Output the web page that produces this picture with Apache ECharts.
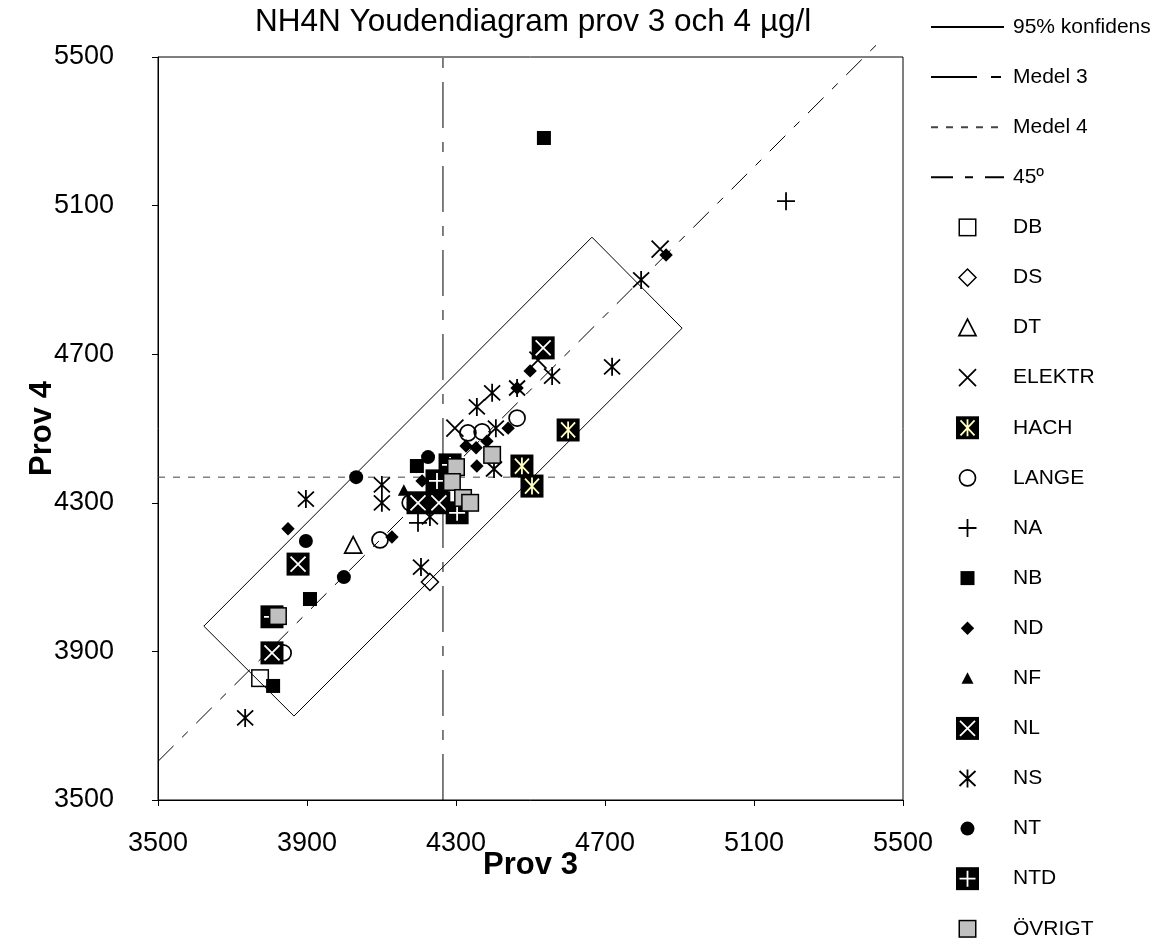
<!DOCTYPE html>
<html><head><meta charset="utf-8">
<script src="https://cdn.jsdelivr.net/npm/echarts@6/dist/echarts.min.js"></script>
<style>html,body{margin:0;padding:0;background:#fff}#c{width:1162px;height:944px}</style>
</head><body><div id="c"></div>
<script>
// ---- data ----
const titleText = 'NH4N Youdendiagram prov 3 och 4 µg/l';
const xTicks = [3500, 3900, 4300, 4700, 5100, 5500];
const yTicks = [3500, 3900, 4300, 4700, 5100, 5500];
const medel3 = 4265;
const medel4 = 4369;
const conf95 = [[3623, 3968], [4665, 5015], [4907, 4770], [3865, 3726], [3623, 3968]];
const line45End = 5428;

const DB = [[3774, 3828]];
const DS = [[4230, 4087]];
const DT = [[4024, 4186]];
const ELEKTR = [[4848, 4983], [4297, 4501], [4520, 4684]];
const HACH = [[4601, 4496], [4477, 4399], [4504, 4345]];
const LANGE = [[4464, 4528], [4332, 4488], [4370, 4491], [4096, 4200], [3836, 3896], [4177, 4300]];
const NA = [[5186, 5112], [4198, 4246]];
const NB = [[4536, 5282], [4195, 4399], [3908, 4041], [3809, 3807]];
const ND = [[4864, 4967], [4499, 4655], [4464, 4609], [4440, 4501], [4383, 4466], [4354, 4448], [4327, 4453], [4356, 4399], [4209, 4359], [4128, 4208], [3849, 4230]];
const NF = [[4160, 4334]];
const NL = [[4534, 4717], [4198, 4300], [4254, 4300], [3876, 4135], [3806, 3896]];
const NS = [[4797, 4900], [4719, 4666], [4558, 4641], [4464, 4609], [4397, 4596], [4356, 4558], [4407, 4501], [4402, 4391], [4101, 4348], [4101, 4300], [3897, 4310], [4206, 4127], [4230, 4262], [3734, 3721]];
const NT = [[4225, 4423], [4032, 4369], [3897, 4197], [3999, 4100]];
const NTD = [[4249, 4359], [4303, 4273], [3806, 3993], [4284, 4402]];
const OVRIGT = [[4397, 4429], [4300, 4396], [4289, 4356], [4319, 4313], [4338, 4300], [3822, 3995]];

// ---- symbols ----
function sym(inner) {
  return 'image://data:image/svg+xml;charset=utf-8,' + encodeURIComponent(
    '<svg xmlns="http://www.w3.org/2000/svg" width="48" height="48" viewBox="0 0 24 24">' + inner + '</svg>');
}
const S = {
  DB: sym('<rect x="3.75" y="3.75" width="16.5" height="16.5" fill="none" stroke="#000" stroke-width="1.5"/>'),
  DS: sym('<polygon points="12,3.5 20.5,12 12,20.5 3.5,12" fill="none" stroke="#000" stroke-width="1.5"/>'),
  DT: sym('<polygon points="12,3.5 20.5,20 3.5,20" fill="none" stroke="#000" stroke-width="1.7"/>'),
  ELEKTR: sym('<path d="M3.5,3.5L20.5,20.5M20.5,3.5L3.5,20.5" stroke="#000" stroke-width="1.8"/>'),
  HACH: sym('<rect x="0.5" y="0.5" width="23" height="23" fill="#000"/><path d="M12,3.5V20.5M5,4.5L19,19.5M19,4.5L5,19.5" stroke="#FFFFC0" stroke-width="1.8"/>'),
  LANGE: sym('<circle cx="12" cy="12" r="8" fill="none" stroke="#000" stroke-width="1.7"/>'),
  NA: sym('<path d="M12,3V21M3,12H21" stroke="#000" stroke-width="1.8"/>'),
  NB: sym('<rect x="5" y="5" width="14" height="14" fill="#000"/>'),
  ND: sym('<polygon points="12,5.3 18.7,12 12,18.7 5.3,12" fill="#000"/>'),
  NF: sym('<polygon points="12,6 18,17.5 6,17.5" fill="#000"/>'),
  NL: sym('<rect x="0.5" y="0.5" width="23" height="23" fill="#000"/><path d="M4.5,4.5L19.5,19.5M19.5,4.5L4.5,19.5" stroke="#fff" stroke-width="1.8"/>'),
  NS: sym('<path d="M12,3V21M4,4.5L20,19.5M20,4.5L4,19.5" stroke="#000" stroke-width="1.8"/>'),
  NT: sym('<circle cx="12" cy="12" r="7" fill="#000"/>'),
  NTD: sym('<rect x="0.5" y="0.5" width="23" height="23" fill="#000"/><path d="M12,4V20M4,12H20" stroke="#fff" stroke-width="1.8"/>'),
  OVRIGT: sym('<rect x="3.75" y="3.75" width="16.5" height="16.5" fill="#C0C0C0" stroke="#000" stroke-width="1.5"/>')
};

const scatterDefs = [
  ['DB', DB, S.DB], ['DS', DS, S.DS], ['DT', DT, S.DT], ['ELEKTR', ELEKTR, S.ELEKTR],
  ['HACH', HACH, S.HACH], ['LANGE', LANGE, S.LANGE], ['NA', NA, S.NA], ['NB', NB, S.NB],
  ['ND', ND, S.ND], ['NF', NF, S.NF], ['NL', NL, S.NL], ['NS', NS, S.NS], ['NT', NT, S.NT],
  ['NTD', NTD, S.NTD], ['ÖVRIGT', OVRIGT, S.OVRIGT]
];

const noSym = { color: 'rgba(0,0,0,0)', borderColor: 'rgba(0,0,0,0)', borderWidth: 0 };
const diff = medel4 - medel3;
const series = [
  { name: '95% konfidens', type: 'line', data: conf95, symbol: 'none', itemStyle: noSym, lineStyle: { color: '#000', width: 1 }, z: 1 },
  { name: 'Medel 3', type: 'line', data: [[medel3, yTicks[0]], [medel3, yTicks[yTicks.length - 1]]], symbol: 'none', itemStyle: noSym, lineStyle: { color: '#000', width: 1, type: [46, 14, 10, 14] }, z: 1 },
  { name: 'Medel 4', type: 'line', data: [[xTicks[0], medel4], [xTicks[xTicks.length - 1], medel4]], symbol: 'none', itemStyle: noSym, lineStyle: { color: '#444', width: 1, type: [7, 8] }, z: 1 },
  { name: '45º', type: 'line', clip: false, data: [[xTicks[0], xTicks[0] + diff], [line45End, line45End + diff]], symbol: 'none', itemStyle: noSym, lineStyle: { color: '#000', width: 1, type: [22, 12, 8, 12] }, z: 1 }
];
scatterDefs.forEach(function (d) {
  series.push({ name: d[0], type: 'scatter', data: d[1], symbol: d[2], symbolSize: 24, z: 2, itemStyle: { opacity: 1 } });
});

const legendData = series.map(function (s) {
  return s.type === 'line' ? { name: s.name, itemStyle: noSym } : { name: s.name };
});

const plain = function (v) { return String(v); };

const chart = echarts.init(document.getElementById('c'), null, { renderer: 'canvas' });
chart.setOption({
  animation: false,
  backgroundColor: '#fff',
  title: {
    text: titleText, left: 255, top: 6, padding: 0,
    textStyle: { fontFamily: 'Liberation Sans', fontSize: 31.5, fontWeight: 'normal', color: '#000' }
  },
  grid: { left: 158, right: 259, top: 57, bottom: 144, show: true, borderColor: '#000', borderWidth: 1, backgroundColor: '#fff' },
  xAxis: {
    type: 'value', min: xTicks[0], max: xTicks[xTicks.length - 1],
    name: 'Prov 3', nameLocation: 'middle', nameGap: 50, nameMoveOverlap: false,
    nameTextStyle: { fontFamily: 'Liberation Sans', fontSize: 31, fontWeight: 'bold', color: '#000' },
    axisLine: { lineStyle: { color: '#000', width: 1 } },
    axisTick: { show: true, length: 6, customValues: xTicks, lineStyle: { color: '#000' } },
    axisLabel: { customValues: xTicks, formatter: plain, margin: 30, fontFamily: 'Liberation Sans', fontSize: 27, color: '#000' },
    splitLine: { show: false }
  },
  yAxis: {
    type: 'value', min: yTicks[0], max: yTicks[yTicks.length - 1],
    name: 'Prov 4', nameLocation: 'middle', nameGap: 100, nameRotate: 90, nameMoveOverlap: false,
    nameTextStyle: { fontFamily: 'Liberation Sans', fontSize: 31, fontWeight: 'bold', color: '#000' },
    axisLine: { show: true, lineStyle: { color: '#000', width: 1 } },
    axisTick: { show: true, length: 6, customValues: yTicks, lineStyle: { color: '#000' } },
    axisLabel: { customValues: yTicks, formatter: plain, margin: 44, fontFamily: 'Liberation Sans', fontSize: 27, color: '#000' },
    splitLine: { show: false }
  },
  legend: {
    orient: 'vertical', left: 930, top: 15, height: 929, padding: 0, itemGap: 26.1, itemWidth: 73, itemHeight: 24,
    selectedMode: false, symbolKeepAspect: true,
    textStyle: { fontFamily: 'Liberation Sans', fontSize: 21, lineHeight: 24, color: '#000', padding: [0, 0, 0, 4] },
    data: legendData
  },
  series: series
});
</script></body></html>
